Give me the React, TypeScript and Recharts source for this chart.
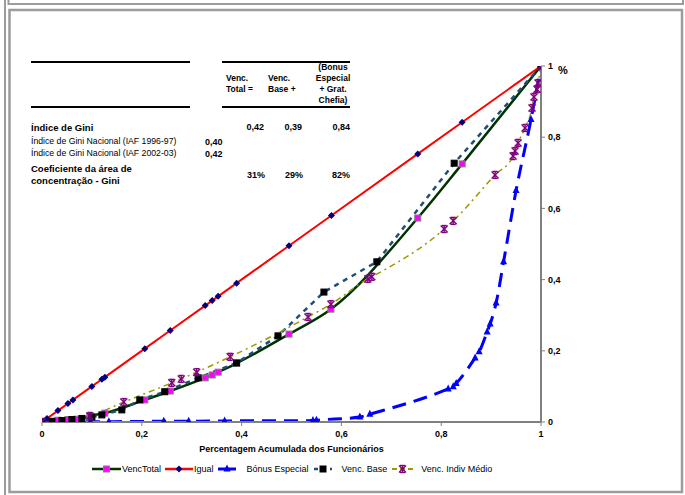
import React from 'react';
import { LineChart, Line, XAxis, YAxis, Legend } from 'recharts';

const FONT = "'Liberation Sans', Arial, Helvetica, sans-serif";

// ---------- data ----------
const igualX = [0, 0.01, 0.032, 0.052, 0.062, 0.1, 0.12, 0.126, 0.206, 0.257, 0.327, 0.341, 0.353, 0.39, 0.495, 0.58, 0.753, 0.842, 1];
const igualY = [0, 0.01, 0.032, 0.052, 0.062, 0.1, 0.12, 0.126, 0.206, 0.257, 0.327, 0.341, 0.353, 0.39, 0.495, 0.58, 0.753, 0.842, 1];

const vencTotalX = [0, 0.01, 0.032, 0.052, 0.07, 0.096, 0.126, 0.206, 0.257, 0.327, 0.341, 0.353, 0.39, 0.495, 0.579, 0.753, 0.842, 1];
const vencTotalY = [0, 0.002, 0.005, 0.007, 0.008, 0.017, 0.025, 0.062, 0.087, 0.124, 0.132, 0.14, 0.165, 0.247, 0.317, 0.573, 0.725, 1];

const bonusX = [0, 0.097, 0.134, 0.244, 0.294, 0.366, 0.543, 0.55, 0.637, 0.657, 0.814, 0.824, 0.83, 0.868, 0.876, 0.892, 0.898, 0.91, 0.925, 0.95, 0.98, 1];
const bonusY = [0, 0.001, 0.001, 0.002, 0.002, 0.003, 0.004, 0.005, 0.014, 0.022, 0.093, 0.099, 0.108, 0.18, 0.197, 0.253, 0.275, 0.334, 0.45, 0.65, 0.85, 1];

const vencBaseX = [0, 0.02, 0.04, 0.06, 0.08, 0.1, 0.12, 0.16, 0.196, 0.246, 0.313, 0.39, 0.473, 0.565, 0.671, 0.826, 1];
const vencBaseY = [0, 0.002, 0.004, 0.007, 0.01, 0.014, 0.02, 0.034, 0.062, 0.085, 0.124, 0.166, 0.242, 0.365, 0.45, 0.727, 1];

const indivX = [0, 0.096, 0.164, 0.26, 0.279, 0.31, 0.377, 0.533, 0.579, 0.653, 0.661, 0.806, 0.824, 0.908, 0.944, 0.948, 0.954, 0.968, 0.982, 0.986, 0.992, 0.994, 1];
const indivY = [0, 0.017, 0.056, 0.11, 0.121, 0.14, 0.183, 0.295, 0.331, 0.402, 0.408, 0.542, 0.565, 0.694, 0.747, 0.761, 0.784, 0.826, 0.882, 0.913, 0.935, 0.952, 1];

const axisTicks = [0, 0.2, 0.4, 0.6, 0.8, 1];

const seriesNames = ['VencTotal', 'Igual', 'Bónus Especial', 'Venc. Base', 'Venc. Indiv Médio'];

const tableHeaderCols = [
  ['Venc.', 'Total ='],
  ['Venc.', 'Base +'],
  ['(Bonus', 'Especial', '+ Grat.', 'Chefia)'],
];
const giniValues = ['0,42', '0,39', '0,84'];
const giniNacional = [
  ['Índice de Gini Nacional (IAF 1996-97)', '0,40'],
  ['Índice de Gini Nacional (IAF 2002-03)', '0,42'],
];
const areaValues = ['31%', '29%', '82%'];

const toPoints = (xs: number[], ys: number[]) => xs.map((x, i) => ({ x, y: ys[i] }));

const vencTotalData = toPoints(vencTotalX, vencTotalY);
const igualData = toPoints(igualX, igualY);
const bonusData = toPoints(bonusX, bonusY);
const vencBaseData = toPoints(vencBaseX, vencBaseY);
const indivData = toPoints(indivX, indivY);

// ---------- markers ----------
const Square = ({ cx, cy, size, fill, stroke }: any) => (
  <rect x={cx - size / 2} y={cy - size / 2} width={size} height={size} fill={fill} stroke={stroke} strokeWidth={1} />
);
const Diamond = ({ cx, cy, size, fill }: any) => (
  <polygon
    points={`${cx},${cy - size / 2} ${cx + size / 2},${cy} ${cx},${cy + size / 2} ${cx - size / 2},${cy}`}
    fill={fill}
  />
);
const Triangle = ({ cx, cy, size, fill }: any) => (
  <polygon
    points={`${cx},${cy - size / 2 - 1} ${cx + size / 2},${cy + size / 2 - 1} ${cx - size / 2},${cy + size / 2 - 1}`}
    fill={fill}
  />
);
const Star = ({ cx, cy, size, stroke }: any) => {
  const h = size / 2;
  return (
    <g stroke={stroke} strokeWidth={1.4}>
      <line x1={cx - h} y1={cy - h} x2={cx + h} y2={cy + h} />
      <line x1={cx - h} y1={cy + h} x2={cx + h} y2={cy - h} />
      <line x1={cx} y1={cy - h} x2={cx} y2={cy + h} />
      <line x1={cx - h + 1} y1={cy - h} x2={cx + h - 1} y2={cy - h} />
      <line x1={cx - h + 1} y1={cy + h} x2={cx + h - 1} y2={cy + h} />
    </g>
  );
};

const mk = (kind: string) => (props: any) => {
  const { cx, cy, index } = props;
  if (cx == null || cy == null) return <g key={`e-${index}`} />;
  const k = `${kind}-${index}`;
  switch (kind) {
    case 'total':
      return <Square key={k} cx={cx} cy={cy} size={6} fill="#FF00FF" stroke="#7F7F7F" />;
    case 'igual':
      return <Diamond key={k} cx={cx} cy={cy} size={7} fill="#000080" />;
    case 'bonus':
      return <Triangle key={k} cx={cx} cy={cy} size={7} fill="#0000FF" />;
    case 'base':
      return <Square key={k} cx={cx} cy={cy} size={6} fill="#000000" stroke="#000000" />;
    default:
      return <Star key={k} cx={cx} cy={cy} size={7} stroke="#800080" />;
  }
};

// ---------- legend ----------
const legendSpecs = [
  { name: seriesNames[0], w: 29, gap: 1, after: 4, stroke: '#003300', sw: 2.5, dash: undefined, marker: 'total' },
  { name: seriesNames[1], w: 28, gap: 1, after: 4, stroke: '#FF0000', sw: 2.5, dash: undefined, marker: 'igual' },
  { name: seriesNames[2], w: 18, gap: 11, after: 5, stroke: '#0000FF', sw: 3, dash: undefined, marker: 'bonus' },
  { name: seriesNames[3], w: 18, gap: 10, after: 5, stroke: '#1F4E79', sw: 2.5, dash: '4 4', marker: 'base' },
  { name: seriesNames[4], w: 21, gap: 8, after: 0, stroke: '#999900', sw: 2, dash: '5 3', marker: 'indiv' },
];

const LegendContent = () => (
  <div style={{ display: 'flex', alignItems: 'center', paddingLeft: 92, height: 14, fontFamily: FONT, fontSize: 9, color: '#000' }}>
    {legendSpecs.map((s) => (
      <div key={s.name} style={{ display: 'flex', alignItems: 'center', marginRight: s.after }}>
        <svg width={s.w} height={12} style={{ display: 'block' }}>
          <line x1={0} y1={6} x2={s.w} y2={6} stroke={s.stroke} strokeWidth={s.sw} strokeDasharray={s.dash} />
          {mk(s.marker)({ cx: s.w / 2, cy: 6, index: 0 })}
        </svg>
        <span style={{ marginLeft: s.gap, whiteSpace: 'nowrap', lineHeight: '14px' }}>{s.name}</span>
      </div>
    ))}
  </div>
);

const fmt = (v: number) => String(v).replace('.', ',');

const tickStyle = { fill: '#000', fontSize: 9, fontWeight: 'bold' as const, fontFamily: FONT };

export default function App() {
  return (
    <div style={{ position: 'absolute', left: 0, top: 0, width: 685, height: 495, background: '#fff', fontFamily: FONT }}>
      <svg style={{ position: 'absolute', left: 0, top: 0 }} width={685} height={495}>
        <rect x={4} y={0} width={2} height={495} fill="#9C9C9C" />
        <path d="M8.5 -5 V4 H683 V-5" fill="none" stroke="#9C9C9C" strokeWidth={2} />
        <rect x={9.5} y={10} width={672.5} height={482} fill="none" stroke="#9C9C9C" strokeWidth={2.5} />
      </svg>
      <div style={{ position: 'absolute', left: 0, top: 0 }}>
        <LineChart width={685} height={495} margin={{ top: 66, right: 104, bottom: 43, left: 42 }}>
          <XAxis
            type="number"
            dataKey="x"
            domain={[0, 1]}
            ticks={axisTicks}
            tickFormatter={fmt}
            allowDataOverflow
            height={30}
            axisLine={{ stroke: '#808080', strokeWidth: 2 }}
            tickLine={{ stroke: '#808080', strokeWidth: 1 }}
            tickSize={4}
            tickMargin={5}
            tick={tickStyle}
            label={{ value: 'Percentagem Acumulada dos Funcionários', position: 'bottom', offset: -6, style: { fill: '#000', fontSize: 9, fontWeight: 'bold', fontFamily: FONT } }}
          />
          <YAxis
            type="number"
            dataKey="y"
            orientation="right"
            domain={[0, 1]}
            ticks={axisTicks}
            tickFormatter={fmt}
            allowDataOverflow
            width={40}
            axisLine={{ stroke: '#808080', strokeWidth: 2 }}
            tickLine={{ stroke: '#808080', strokeWidth: 1 }}
            tickSize={4}
            tickMargin={3}
            tick={{ ...tickStyle, textAnchor: 'start' }}
          />
          <Legend
            layout="horizontal"
            verticalAlign="middle"
            align="center"
            wrapperStyle={{ top: 462, left: 0, width: 685 }}
            content={<LegendContent />}
          />
          <Line data={vencTotalData} dataKey="y" name={seriesNames[0]} type="monotone" stroke="#003300" strokeWidth={2.5} dot={mk('total')} isAnimationActive={false} />
          <Line data={igualData} dataKey="y" name={seriesNames[1]} type="linear" stroke="#FF0000" strokeWidth={2} dot={mk('igual')} isAnimationActive={false} />
          <Line data={bonusData} dataKey="y" name={seriesNames[2]} type="monotone" stroke="#0000FF" strokeWidth={3} strokeDasharray="14 8" dot={mk('bonus')} isAnimationActive={false} />
          <Line data={vencBaseData} dataKey="y" name={seriesNames[3]} type="linear" stroke="#1F4E79" strokeWidth={2.5} strokeDasharray="5 5" dot={mk('base')} isAnimationActive={false} />
          <Line data={indivData} dataKey="y" name={seriesNames[4]} type="monotone" stroke="#999900" strokeWidth={1.5} strokeDasharray="6 4 2 4" dot={mk('indiv')} isAnimationActive={false} />
        </LineChart>
      </div>
      <svg style={{ position: 'absolute', left: 0, top: 0, pointerEvents: 'none' }} width={685} height={495} fontFamily={FONT}>
        <text x={558} y={70} fontSize={11} fontWeight="bold" dominantBaseline="central">%</text>
        {/* table rules */}
        <rect x={31} y={61} width={159} height={2} fill="#000" />
        <rect x={222} y={61} width={128} height={2} fill="#000" />
        <rect x={31} y={106} width={159} height={2} fill="#000" />
        <rect x={222} y={106} width={128} height={2} fill="#000" />
        {/* headers */}
        {tableHeaderCols[0].map((t, i) => (
          <text key={`h0-${i}`} x={226} y={78 + i * 11} fontSize={8.5} fontWeight="bold" dominantBaseline="central">{t}</text>
        ))}
        {tableHeaderCols[1].map((t, i) => (
          <text key={`h1-${i}`} x={268} y={78 + i * 11} fontSize={8.5} fontWeight="bold" dominantBaseline="central">{t}</text>
        ))}
        {tableHeaderCols[2].map((t, i) => (
          <text key={`h2-${i}`} x={333} y={67 + i * 11} fontSize={8.5} fontWeight="bold" textAnchor="middle" dominantBaseline="central">{t}</text>
        ))}
        <text x={31} y={127} fontSize={9.5} fontWeight="bold" dominantBaseline="central">Índice de Gini</text>
        {giniValues.map((v, i) => (
          <text key={`g-${i}`} x={[264, 302, 350][i]} y={127} fontSize={9} fontWeight="bold" textAnchor="end" dominantBaseline="central">{v}</text>
        ))}
        {giniNacional.map((r, i) => (
          <g key={`n-${i}`}>
            <text x={31} y={141 + i * 12} fontSize={8.7} dominantBaseline="central">{r[0]}</text>
            <text x={205} y={142 + i * 12} fontSize={9} fontWeight="bold" dominantBaseline="central">{r[1]}</text>
          </g>
        ))}
        <text x={31} y={168} fontSize={9.5} fontWeight="bold" dominantBaseline="central">Coeficiente da área de</text>
        <text x={31} y={180} fontSize={9.5} fontWeight="bold" dominantBaseline="central">concentração -  Gini</text>
        {areaValues.map((v, i) => (
          <text key={`a-${i}`} x={[265, 303, 350][i]} y={175} fontSize={9} fontWeight="bold" textAnchor="end" dominantBaseline="central">{v}</text>
        ))}
      </svg>
    </div>
  );
}
